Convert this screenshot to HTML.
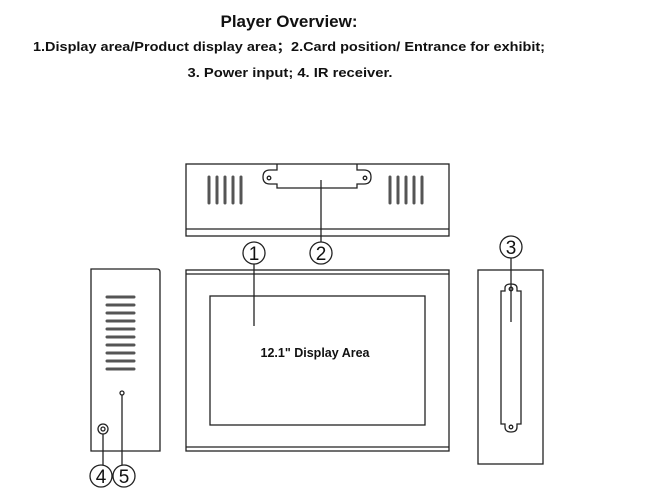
<!DOCTYPE html>
<html><head><meta charset="utf-8"><style>
html,body{margin:0;padding:0;background:#fff;}
svg{display:block;}
text{font-family:"Liberation Sans","Noto Sans CJK SC",sans-serif;font-weight:bold;fill:#111;}
</style></head><body>
<svg width="659" height="503" viewBox="0 0 659 503" xmlns="http://www.w3.org/2000/svg">
<text x="289" y="27" font-size="17" text-anchor="middle">Player Overview:</text>
<text x="289" y="51" font-size="12.5" text-anchor="middle" textLength="512" lengthAdjust="spacingAndGlyphs">1.Display area/Product display area；2.Card position/ Entrance for exhibit;</text>
<text x="290" y="77" font-size="12.5" text-anchor="middle" textLength="205" lengthAdjust="spacingAndGlyphs">3. Power input;  4. IR receiver.</text>

<g fill="none" stroke="#222" stroke-width="1.3">
<rect x="186" y="164" width="263" height="72"/>
<line x1="186" y1="229" x2="449" y2="229"/>
<path d="M277 164 V170 H270 Q263 170 263 177 Q263 184 270 184 H277 V188 H357 V184 H364 Q371 184 371 177 Q371 170 364 170 H357 V164"/>
<circle cx="269" cy="178" r="1.8"/><circle cx="365" cy="178" r="1.8"/>
<g stroke-width="3" stroke-linecap="round" stroke="#555">
<line x1="209" y1="177" x2="209" y2="203"/><line x1="217" y1="177" x2="217" y2="203"/><line x1="225" y1="177" x2="225" y2="203"/><line x1="233" y1="177" x2="233" y2="203"/><line x1="241" y1="177" x2="241" y2="203"/>
<line x1="390" y1="177" x2="390" y2="203"/><line x1="398" y1="177" x2="398" y2="203"/><line x1="406" y1="177" x2="406" y2="203"/><line x1="414" y1="177" x2="414" y2="203"/><line x1="422" y1="177" x2="422" y2="203"/>
</g>
<line x1="321" y1="180" x2="321" y2="242"/>
<circle cx="321" cy="253" r="11"/>
<circle cx="254" cy="253" r="11"/>
<line x1="254" y1="264" x2="254" y2="326"/>
<rect x="186" y="270" width="263" height="181"/>
<line x1="186" y1="274" x2="449" y2="274"/>
<line x1="186" y1="447" x2="449" y2="447"/>
<rect x="210" y="296" width="215" height="129"/>
<path d="M91 269 H157 Q160 269 160 272 V451 H91 Z"/>
<g stroke-width="3" stroke-linecap="round" stroke="#555">
<line x1="107" y1="297" x2="134" y2="297"/><line x1="107" y1="305" x2="134" y2="305"/><line x1="107" y1="313" x2="134" y2="313"/><line x1="107" y1="321" x2="134" y2="321"/><line x1="107" y1="329" x2="134" y2="329"/><line x1="107" y1="337" x2="134" y2="337"/><line x1="107" y1="345" x2="134" y2="345"/><line x1="107" y1="353" x2="134" y2="353"/><line x1="107" y1="361" x2="134" y2="361"/><line x1="107" y1="369" x2="134" y2="369"/>
</g>
<circle cx="122" cy="393" r="2"/>
<circle cx="103" cy="429" r="5"/><circle cx="103" cy="429" r="2"/>
<line x1="103" y1="434" x2="103" y2="465"/>
<line x1="122" y1="395" x2="122" y2="465"/>
<circle cx="101" cy="476" r="11"/><circle cx="124" cy="476" r="11"/>
<rect x="478" y="270" width="65" height="194"/>
<path d="M505 291 V288 Q505 284 511 284 Q517 284 517 288 V291 H521 V424 H517 V427 Q517 432 511 432 Q505 432 505 427 V424 H501 V291 Z"/>
<circle cx="511" cy="289" r="1.8"/><circle cx="511" cy="427" r="1.8"/>
<line x1="511" y1="258" x2="511" y2="322"/>
<circle cx="511" cy="247" r="11"/>
</g>
<g font-size="19" text-anchor="middle">
<text x="254" y="260" style="font-weight:normal">1</text>
<text x="321" y="260" style="font-weight:normal">2</text>
<text x="511" y="254" style="font-weight:normal">3</text>
<text x="101" y="483" style="font-weight:normal">4</text>
<text x="124" y="483" style="font-weight:normal">5</text>
</g>
<text x="315" y="357" font-size="12.5" text-anchor="middle">12.1" Display Area</text>
</svg>
</body></html>
